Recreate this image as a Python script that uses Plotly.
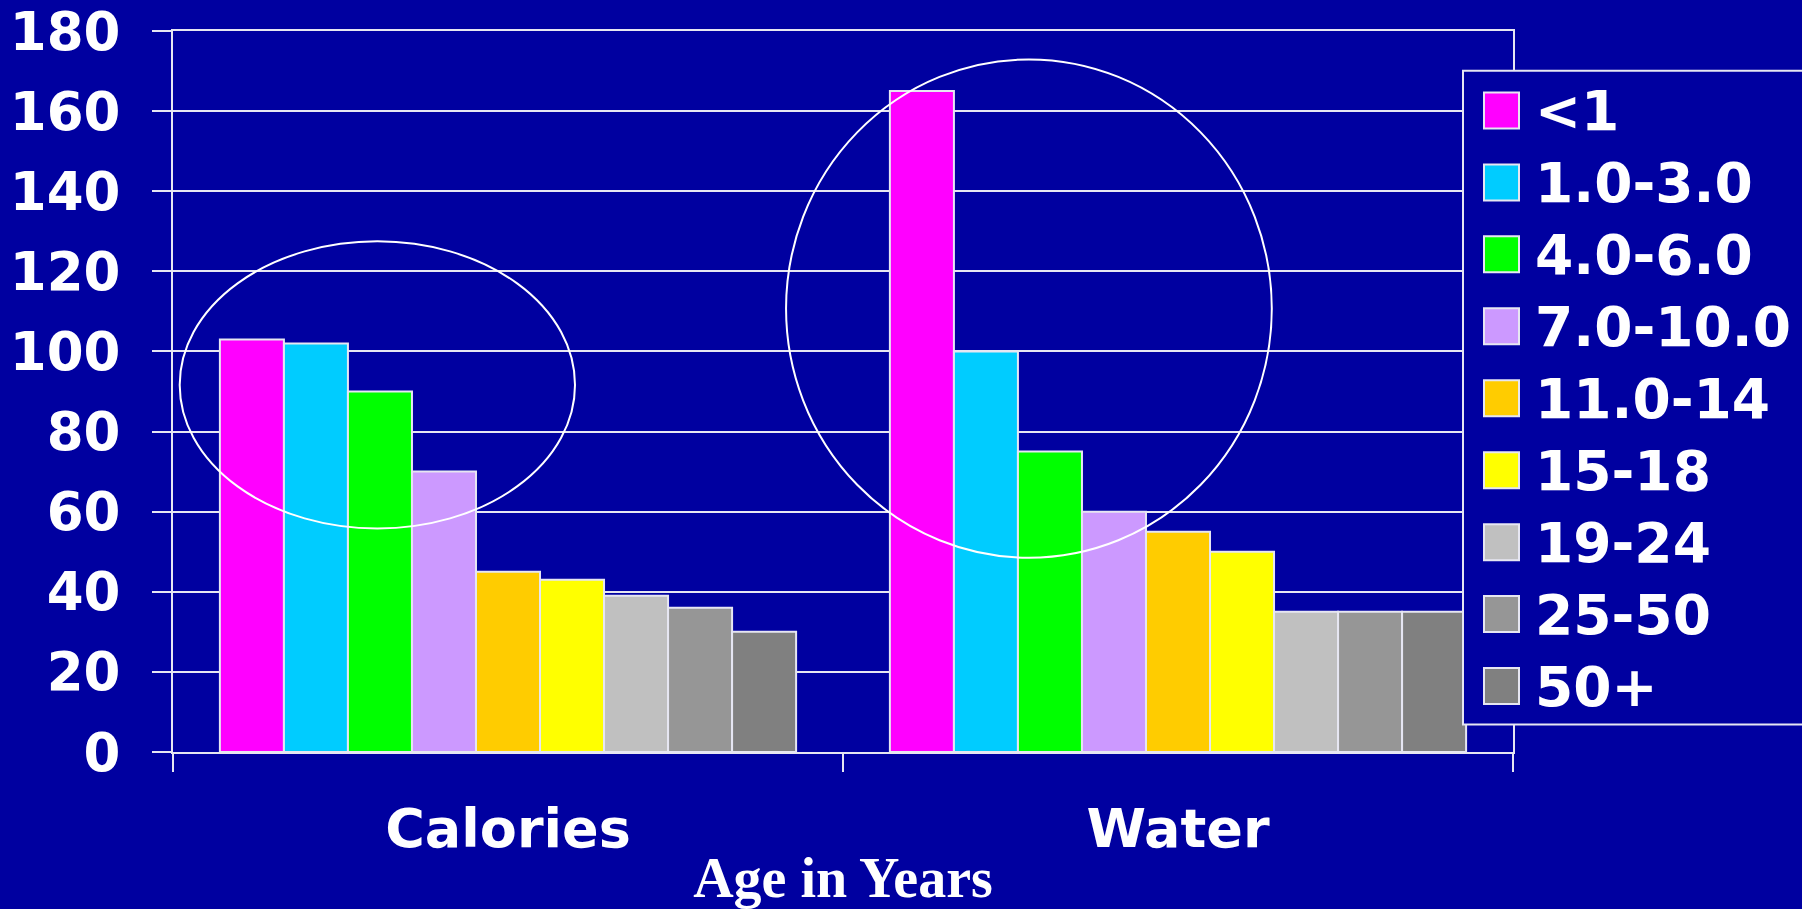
import plotly.graph_objects as go

# ---- data ----
categories = ["Calories", "Water"]
age_groups = ["<1", "1.0-3.0", "4.0-6.0", "7.0-10.0", "11.0-14", "15-18", "19-24", "25-50", "50+"]
calories = [103, 102, 90, 70, 45, 43, 39, 36, 30]
water = [165, 100, 75, 60, 55, 50, 35, 35, 35]
colors = ["#FF00FF", "#00CCFF", "#00FF00", "#CC99FF", "#FFCC00", "#FFFF00", "#C0C0C0", "#969696", "#808080"]
y_ticks = [0, 20, 40, 60, 80, 100, 120, 140, 160, 180]
x_title = "Age in Years"

BG = "#0000A0"
LINE = "#E6E6F2"
W, H = 1802, 909
L, R, T, B = 173, 1513, 31, 752.5  # plot area in px

def px_x(p):
    return (p - L) / (R - L)

def px_y(p):
    return (B - p) / (B - T)

fig = go.Figure()
for i, g in enumerate(age_groups):
    fig.add_trace(go.Bar(
        x=categories, y=[calories[i], water[i]], name=g,
        marker=dict(color=colors[i], line=dict(color=LINE, width=2)),
        showlegend=False,
    ))

shapes = [
    # highlight ellipses (data coordinates)
    dict(type="circle", xref="x", yref="y", x0=-0.49, x1=0.10, y0=55.8, y1=127.5,
         line=dict(color="white", width=2), layer="above"),
    dict(type="circle", xref="x", yref="y", x0=0.415, x1=1.14, y0=48.5, y1=172.9,
         line=dict(color="white", width=2), layer="above"),
    # legend box
    dict(type="rect", xref="paper", yref="paper", x0=px_x(1463), x1=px_x(1830),
         y0=px_y(725), y1=px_y(70.7), fillcolor=BG, line=dict(color=LINE, width=2), layer="above"),
]
annotations = []
for i, g in enumerate(age_groups):
    cy = 110.5 + 72 * i
    shapes.append(dict(type="rect", xref="paper", yref="paper",
                       x0=px_x(1484), x1=px_x(1519), y0=px_y(cy + 18), y1=px_y(cy - 18),
                       fillcolor=colors[i], line=dict(color=LINE, width=2), layer="above"))
    annotations.append(dict(text=g, xref="paper", yref="paper", x=px_x(1533), y=px_y(cy + 1),
                            xanchor="left", yanchor="middle", showarrow=False,
                            font=dict(family="DejaVu Sans", size=55, color="white", weight="bold")))

fig.update_layout(
    width=W, height=H,
    margin=dict(l=L, r=W - R, t=T, b=H - B, autoexpand=False),
    paper_bgcolor=BG, plot_bgcolor=BG,
    barmode="group", bargap=0.14, bargroupgap=0,
    shapes=shapes, annotations=annotations,
    xaxis=dict(
        automargin=False,
        showgrid=False, showline=True, linecolor=LINE, linewidth=2, mirror=True,
        ticks="outside", tickson="boundaries", ticklen=18, tickwidth=2, tickcolor=LINE,
        tickfont=dict(family="DejaVu Sans", size=54, color="white", weight="bold"),
        ticklabelstandoff=28,
        title=dict(text=x_title, font=dict(family="Liberation Serif", size=56, color="white", weight="bold"), standoff=6),
    ),
    yaxis=dict(
        automargin=False,
        range=[0, 180], tickvals=y_ticks, showgrid=True, gridcolor=LINE, gridwidth=2,
        zeroline=False, showline=True, linecolor=LINE, linewidth=2, mirror=True,
        ticks="outside", ticklen=19, tickwidth=2, tickcolor=LINE,
        tickfont=dict(family="DejaVu Sans", size=53, color="white", weight="bold"),
        ticklabelstandoff=21,
    ),
)

fig.write_html("out.html")
